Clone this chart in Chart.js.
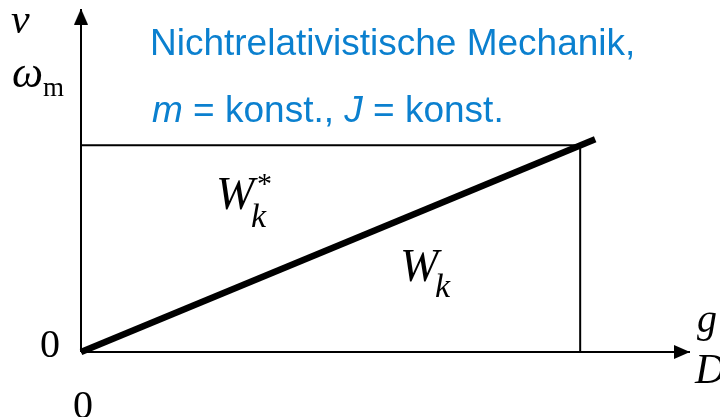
<!DOCTYPE html>
<html>
<head>
<meta charset="utf-8">
<script src="https://cdn.jsdelivr.net/npm/chart.js@4"></script>
<style>
  body { margin: 0; background: #fff; }
  #wrap { position: relative; width: 720px; height: 417px; overflow: hidden; }
  .lbl { position: absolute; line-height: 1; white-space: nowrap; }
  .serif { font-family: "Liberation Serif", "Times New Roman", serif; font-size: 40px; color: #000; }
  .it { font-style: italic; }
  .blue { font-family: "Liberation Sans", Arial, sans-serif; font-size: 37px; color: #0b80cf; }
</style>
</head>
<body>
<div id="wrap">
  <canvas id="diagramm" width="720" height="417"></canvas>

  <div class="lbl serif it" style="left:11px; top:-2px; font-size:42px;">v</div>
  <div class="lbl serif" style="left:12px; top:51px; font-size:44px;"><i>ω</i><span style="font-size:27px; position:relative; top:9px;">m</span></div>
  <div class="lbl serif" style="left:40px; top:324px;">0</div>
  <div class="lbl serif" style="left:73px; top:385px;">0</div>
  <div class="lbl serif it" style="left:697px; top:299px;">g</div>
  <div class="lbl serif it" style="left:695px; top:348px; font-size:42px;">D</div>

  <div class="lbl serif it" style="left:216px; top:171px; font-size:46px;">W</div>
  <div class="lbl serif it" style="left:251px; top:199px; font-size:34px;">k</div>
  <div class="lbl serif" style="left:257px; top:168px; font-size:30px;">*</div>

  <div class="lbl serif it" style="left:400px; top:243px; font-size:46px;">W</div>
  <div class="lbl serif it" style="left:435px; top:269px; font-size:34px;">k</div>

  <div class="lbl blue" style="left:150px; top:24px;">Nichtrelativistische Mechanik,</div>
  <div class="lbl blue" style="left:152px; top:91px;"><i>m</i> = konst., <i>J</i> = konst.</div>
</div>

<script>
// Achsen (Ursprung bei 0,0)
const achseX = [0, 1.22];
const achseY = [0, 1.66];

// Rahmen bis zum Endpunkt
const rahmenX = [0, 1, 1];
const rahmenY = [1, 1, 0];

// dicke Gerade
const geradeX = [0, 1.03];
const geradeY = [0, 1.03];

// Pfeilspitzen
const pfeilX = [0, 1.204];
const pfeilY = [1.623, 0];
const pfeilDrehung = [0, 90];

const punkte = (xs, ys) => xs.map((x, i) => ({ x: x, y: ys[i] }));

// schmale Pfeilspitze als Bild (zeigt nach oben)
const spitze = document.createElement("canvas");
spitze.width = 14;
spitze.height = 16;
const sctx = spitze.getContext("2d");
sctx.fillStyle = "#000";
sctx.beginPath();
sctx.moveTo(7, 0);
sctx.lineTo(14, 16);
sctx.lineTo(0, 16);
sctx.closePath();
sctx.fill();

const ctx = document.getElementById("diagramm").getContext("2d");
const diagramm = new Chart(ctx, {
  type: "scatter",
  data: {
    datasets: [
      {
        label: "x-Achse",
        data: punkte(achseX, [0, 0]),
        showLine: true,
        borderColor: "#000",
        borderWidth: 2,
        pointRadius: 0,
        clip: false,
      },
      {
        label: "y-Achse",
        data: punkte([0, 0], achseY),
        showLine: true,
        borderColor: "#000",
        borderWidth: 2,
        pointRadius: 0,
        clip: false,
      },
      {
        label: "Rahmen",
        data: punkte(rahmenX, rahmenY),
        showLine: true,
        borderColor: "#000",
        borderWidth: 2,
        pointRadius: 0,
        clip: false,
      },
      {
        label: "Gerade",
        data: punkte(geradeX, geradeY),
        showLine: true,
        borderColor: "#000",
        borderWidth: 6.5,
        borderCapStyle: "butt",
        pointRadius: 0,
        clip: false,
      },
      {
        label: "Pfeile",
        data: punkte(pfeilX, pfeilY),
        showLine: false,
        pointStyle: spitze,
        pointRadius: 8,
        pointRotation: pfeilDrehung,
        clip: false,
      },
    ],
  },
  options: {
    responsive: false,
    animation: false,
    layout: { padding: { left: 81, right: 30, top: 8, bottom: 65 } },
    plugins: { legend: { display: false }, tooltip: { enabled: false } },
    scales: {
      x: { type: "linear", display: false, min: 0, max: achseX[1] },
      y: { type: "linear", display: false, min: 0, max: achseY[1] },
    },
  },
});
</script>
</body>
</html>
